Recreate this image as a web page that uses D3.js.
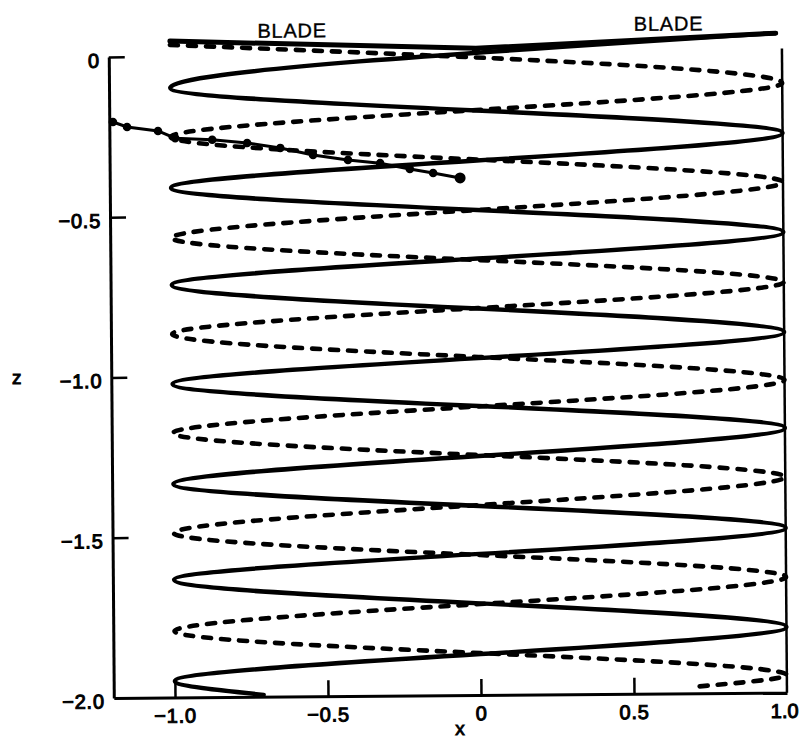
<!DOCTYPE html>
<html>
<head>
<meta charset="utf-8">
<script src="https://cdn.jsdelivr.net/npm/d3@7"></script>
<style>
  body { margin: 0; background: #fff; }
  text { font-family: "Liberation Sans", Arial, Helvetica, sans-serif; fill: #000; }
</style>
</head>
<body>
<svg id="chart" width="801" height="740"></svg>
<script>
// Tip vortex trailed from blade 1 (solid): turning points of the helix, (x, z)
const solidX = [0.98, -1, 1, -1, 1, -1, 1, -1, 1, -1, 1, -1, 1, -1, -0.71];
const solidZ = [0.058, -0.098, -0.254, -0.410, -0.563, -0.713, -0.875, -1.022,
                -1.174, -1.334, -1.486, -1.633, -1.795, -1.949, -1.994];

// Tip vortex trailed from blade 2 (dashed)
const dashedX = [-1, 1, -1, 1, -1, 1, -1, 1, -1, 1, -1, 1, -1, 1, 0.69];
const dashedZ = [0.036, -0.098, -0.251, -0.407, -0.566, -0.719, -0.866, -1.024,
                 -1.175, -1.327, -1.487, -1.639, -1.793, -1.945, -1.980];

// Blade span: left tip, hub, right tip
const bladeX = [-1.0, 0.0, 0.98];
const bladeZ = [0.048, 0.018, 0.058];

// Trajectory traced with circle markers
const pathX = [-1.188, -1.142, -1.041, -0.985, -0.864, -0.750, -0.642,
               -0.535, -0.421, -0.316, -0.219, -0.143, -0.055];
const pathZ = [-0.203, -0.219, -0.232, -0.255, -0.261, -0.272, -0.288,
               -0.311, -0.327, -0.338, -0.357, -0.370, -0.386];

// Axis ticks
const xTicks = [-1.0, -0.5, 0, 0.5, 1.0];
const xTickLabels = ["\u22121.0", "\u22120.5", "0", "0.5", "1.0"];
const zTicks = [0, -0.5, -1.0, -1.5, -2.0];
const zTickLabels = ["0", "\u22120.5", "\u22121.0", "\u22121.5", "\u22122.0"];

const svg = d3.select("#chart");

const x = d3.scaleLinear().domain([-1.2, 1.0]).range([111.3, 784.5]);
const z = d3.scaleLinear().domain([0, -2.0]).range([54.3, 695.3]);

const g = svg.append("g").attr("transform", "rotate(-0.45,450,378)");

// Left axis, ticks pointing inward
const zAxis = g.append("g")
  .attr("transform", `translate(${x(-1.2)},0)`)
  .call(d3.axisLeft(z)
    .tickValues(zTicks)
    .tickFormat((d, i) => zTickLabels[i])
    .tickSizeInner(-16)
    .tickSizeOuter(0)
    .tickPadding(9));

// Bottom axis, ticks pointing inward
const xAxis = g.append("g")
  .attr("transform", `translate(0,${z(-2.0)})`)
  .call(d3.axisBottom(x)
    .tickValues(xTicks)
    .tickFormat((d, i) => xTickLabels[i])
    .tickSizeInner(-16)
    .tickSizeOuter(0)
    .tickPadding(11));

[zAxis, xAxis].forEach(a => {
  a.select(".domain").attr("stroke", "#000").attr("stroke-width", 3);
  a.selectAll(".tick line").attr("stroke", "#000").attr("stroke-width", 2.5);
  a.selectAll(".tick text")
    .attr("font-size", 20)
    .attr("font-family", "'Liberation Sans', Arial, sans-serif")
    .attr("fill", "#000")
    .attr("stroke", "#000")
    .attr("stroke-width", 1)
    .attr("letter-spacing", 0.8);
});
zAxis.selectAll(".tick text").attr("dy", "0.5em");
zAxis.selectAll(".tick").filter(d => d === -2.0).select("line").remove();
xAxis.selectAll(".tick").filter(d => d === 1.0).select("line").remove();
xAxis.selectAll(".tick").filter(d => d === 1.0).select("text")
  .attr("letter-spacing", 0).attr("dx", -3);

// Right edge of the frame at x = 1
g.append("line")
  .attr("x1", x(1.0)).attr("x2", x(1.0))
  .attr("y1", z(0.01)).attr("y2", z(-2.0))
  .attr("stroke", "#000").attr("stroke-width", 2.5);

// Helix curves: x as a smooth function of z between turning points
const helix = d3.line()
  .x(d => x(d[0]))
  .y(d => z(d[1]))
  .curve(d3.curveMonotoneY);

const solidPts = solidX.map((v, i) => [v, solidZ[i]]);
const dashedPts = dashedX.map((v, i) => [v, dashedZ[i]]);

g.append("path")
  .attr("d", helix(dashedPts))
  .attr("fill", "none")
  .attr("stroke", "#000")
  .attr("stroke-width", 4.6)
  .attr("stroke-linecap", "round")
  .attr("stroke-dasharray", "8,10");

g.append("path")
  .attr("d", helix(solidPts))
  .attr("fill", "none")
  .attr("stroke", "#000")
  .attr("stroke-width", 4.4)
  .attr("stroke-linejoin", "round")
  .attr("stroke-linecap", "round");

// Blade
const bladePts = bladeX.map((v, i) => [v, bladeZ[i]]);
g.append("path")
  .attr("d", d3.line().x(d => x(d[0])).y(d => z(d[1]))(bladePts))
  .attr("fill", "none")
  .attr("stroke", "#000")
  .attr("stroke-width", 5)
  .attr("stroke-linecap", "round")
  .attr("stroke-linejoin", "round");
g.append("circle")
  .attr("cx", x(bladeX[1])).attr("cy", z(bladeZ[1]) + 2)
  .attr("r", 4).attr("fill", "#000");

// Circle-marked trajectory
const trackPts = pathX.map((v, i) => [v, pathZ[i]]);
g.append("path")
  .attr("d", d3.line().x(d => x(d[0])).y(d => z(d[1]))(trackPts))
  .attr("fill", "none")
  .attr("stroke", "#000")
  .attr("stroke-width", 3);
g.selectAll("circle.track")
  .data(trackPts)
  .join("circle")
  .attr("class", "track")
  .attr("cx", d => x(d[0]))
  .attr("cy", d => z(d[1]))
  .attr("r", (d, i) => i === trackPts.length - 1 ? 5.5 : 4.3)
  .attr("fill", "#000");

// Labels
g.append("text")
  .attr("x", x(-0.60)).attr("y", z(0) - 18)
  .attr("text-anchor", "middle")
  .attr("font-size", 20).attr("letter-spacing", 0.8)
  .attr("stroke", "#000").attr("stroke-width", 0.35)
  .text("BLADE");
g.append("text")
  .attr("x", x(0.63)).attr("y", z(0) - 22)
  .attr("text-anchor", "middle")
  .attr("font-size", 20).attr("letter-spacing", 0.8)
  .attr("stroke", "#000").attr("stroke-width", 0.35)
  .text("BLADE");

svg.append("text")
  .attr("x", 12).attr("y", z(-1.0) + 9)
  .attr("font-size", 19)
  .attr("stroke", "#000").attr("stroke-width", 0.9)
  .text("z");
svg.append("text")
  .attr("x", 460).attr("y", 735)
  .attr("text-anchor", "middle")
  .attr("font-size", 19)
  .attr("stroke", "#000").attr("stroke-width", 0.9)
  .text("x");
</script>
</body>
</html>
